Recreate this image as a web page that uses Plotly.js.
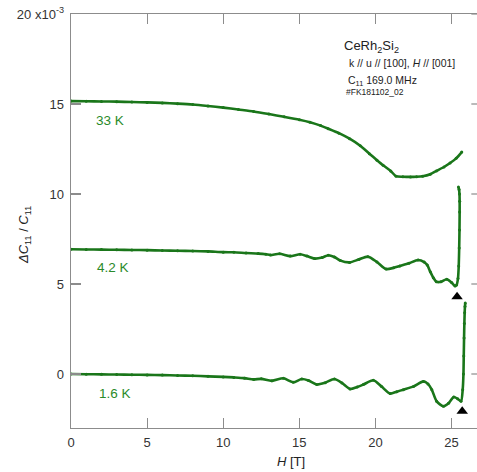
<!DOCTYPE html>
<html>
<head>
<meta charset="utf-8">
<script src="https://cdn.plot.ly/plotly-3.0.1.min.js"></script>
<style>html,body{margin:0;padding:0;background:#fff;overflow:hidden;width:477px;height:472px;}#plot{width:477px;height:472px;}</style>
</head>
<body>
<div id="plot"></div>
<script>
// values in units of 1e-3
var h33 = [0, 1, 2, 3, 4, 5, 6, 7, 8, 9, 10, 11, 12, 13, 14, 15, 15.7, 16.4, 16.9, 17.6, 18.3, 19.0, 19.6, 20.1, 20.5, 21.0, 21.35, 21.8, 22.3, 22.7, 23.1, 23.6, 24.0, 24.5, 24.9, 25.3, 25.67];
var y33 = [15.16, 15.15, 15.14, 15.13, 15.11, 15.09, 15.06, 15.02, 14.97, 14.89, 14.80, 14.69, 14.58, 14.44, 14.29, 14.13, 13.99, 13.80, 13.63, 13.38, 13.07, 12.68, 12.24, 11.88, 11.60, 11.28, 10.99, 10.96, 10.95, 10.96, 10.99, 11.10, 11.28, 11.50, 11.72, 11.98, 12.33];

var h42 = [0, 1, 2, 3, 4, 5, 6, 7, 8, 9, 10, 10.7, 11.5, 12.3, 12.8, 13.1, 13.7, 14.4, 15.05, 15.5, 16.0, 16.5, 16.9, 17.3, 17.7, 18.3, 18.9, 19.5, 20.1, 20.7, 21.2, 21.6, 22.2, 22.8, 23.2, 23.4, 23.6, 23.8, 24.0, 24.3, 24.68, 25.0, 25.23, 25.33, 25.42, 25.47, 25.5, 25.52, 25.53, 25.53, 25.52, 25.49, 25.45];
var y42 = [6.93, 6.92, 6.91, 6.90, 6.89, 6.88, 6.86, 6.85, 6.83, 6.81, 6.77, 6.76, 6.72, 6.69, 6.65, 6.61, 6.68, 6.55, 6.65, 6.55, 6.41, 6.47, 6.60, 6.50, 6.30, 6.20, 6.36, 6.52, 6.22, 5.83, 5.90, 6.00, 6.15, 6.33, 6.22, 6.05, 5.68, 5.35, 5.13, 5.12, 5.26, 5.08, 4.89, 4.95, 5.30, 6.00, 7.00, 8.00, 9.00, 9.60, 10.00, 10.25, 10.39];

var h16 = [0, 1, 2, 3, 4, 5, 6, 7, 8, 9, 10, 10.7, 11.4, 12.0, 12.5, 13.2, 13.95, 14.6, 15.16, 15.6, 16.14, 16.7, 17.3, 17.8, 18.33, 18.8, 19.2, 19.86, 20.4, 20.96, 21.4, 21.83, 22.5, 23.15, 23.45, 23.7, 24.02, 24.46, 24.8, 25.15, 25.4, 25.62, 25.73, 25.78, 25.8, 25.82, 25.84, 25.86, 25.88, 25.9];
var y16 = [0.00, -0.01, -0.02, -0.03, -0.04, -0.05, -0.06, -0.08, -0.10, -0.13, -0.16, -0.19, -0.23, -0.30, -0.27, -0.38, -0.24, -0.46, -0.28, -0.36, -0.58, -0.48, -0.28, -0.50, -0.83, -0.72, -0.59, -0.35, -0.70, -1.09, -0.98, -0.87, -0.69, -0.41, -0.55, -0.87, -1.52, -1.79, -1.62, -1.28, -1.38, -1.52, -0.87, 0.00, 1.00, 2.00, 2.80, 3.40, 3.75, 3.95];

var markH = [25.36, 25.70];
var markY = [4.29, -2.07];

var tickVals = [0, 5, 10, 15, 20];
var tickText = ['0', '5', '10', '15', '20 x10<sup>-3</sup>'];
var xTickVals = [0, 5, 10, 15, 20, 25];
var xTickText = ['0', '5', '10', '15', '20', '25'];

var green = '#1a761a';
function series(hx, yy, name) {
  return {x: hx, y: yy, name: name, type: 'scatter', mode: 'lines+markers',
    line: {color: green, width: 2.6, shape: 'spline', smoothing: 0.7}, marker: {color: green, size: 3}, hoverinfo: 'x+y'};
}
var traces = [
  series(h33, y33, '33 K'),
  series(h42, y42, '4.2 K'),
  series(h16, y16, '1.6 K'),
  {x: markH, y: markY, type: 'scatter', mode: 'markers', name: 'transition',
    marker: {symbol: 'triangle-up', size: 10, color: '#000'}}
];

var axCol = '#8c8c8c';
var font = {family: 'Liberation Sans, Arial, Helvetica, sans-serif', size: 13, color: '#333'};
var lab = {family: 'Liberation Sans, Arial, Helvetica, sans-serif', size: 13.5, color: '#2a8a2a'};
var txt = {family: 'Liberation Sans, Arial, Helvetica, sans-serif', size: 10.5, color: '#222'};

// right-side (mirrored) tick marks of the y axis; the right frame line lies beyond the picture
var rightTicks = tickVals.map(function (v) {
  return {type: 'line', xref: 'paper', yref: 'y', x0: 0.986, x1: 1.0, y0: v, y1: v,
    line: {color: axCol, width: 1.2}, layer: 'above'};
});

var layout = {
  width: 477, height: 472,
  margin: {l: 71, r: 0, t: 14, b: 44, pad: 0},
  paper_bgcolor: '#fff', plot_bgcolor: '#fff',
  showlegend: false,
  font: font,
  xaxis: {range: [0, 26.67], tickvals: xTickVals, ticktext: xTickText, ticks: 'inside', ticklen: 10,
    tickcolor: axCol, tickwidth: 1.2, showline: true, linecolor: axCol, linewidth: 1.4, mirror: 'ticks',
    showgrid: false, zeroline: false, ticklabelstandoff: 2, tickfont: font},
  yaxis: {range: [-3, 20], tickvals: tickVals, ticktext: tickText, ticks: 'inside', ticklen: 10,
    tickcolor: axCol, tickwidth: 1.2, showline: true, linecolor: axCol, linewidth: 1.4,
    showgrid: false, zeroline: false, ticklabelstandoff: 3, tickfont: font},
  shapes: rightTicks,
  annotations: [
    {x: 1.5, y: 14.1, xref: 'x', yref: 'y', text: '33 K', showarrow: false, xanchor: 'left', yanchor: 'middle', font: lab},
    {x: 1.6, y: 5.9, xref: 'x', yref: 'y', text: '4.2 K', showarrow: false, xanchor: 'left', yanchor: 'middle', font: lab},
    {x: 1.68, y: -1.07, xref: 'x', yref: 'y', text: '1.6 K', showarrow: false, xanchor: 'left', yanchor: 'middle', font: lab},
    {x: 17.8, y: 18.2, xref: 'x', yref: 'y', text: 'CeRh<sub>2</sub>Si<sub>2</sub>', showarrow: false, xanchor: 'left', yanchor: 'middle',
      font: {family: txt.family, size: 13, color: '#222'}},
    {x: 18.1, y: 17.29, xref: 'x', yref: 'y', text: 'k // u // [100], <i>H</i> // [001]', showarrow: false, xanchor: 'left', yanchor: 'middle', font: txt},
    {x: 18.05, y: 16.3, xref: 'x', yref: 'y', text: 'C<sub>11</sub> 169.0 MHz', showarrow: false, xanchor: 'left', yanchor: 'middle', font: txt},
    {x: 17.95, y: 15.66, xref: 'x', yref: 'y', text: '#FK181102_02', showarrow: false, xanchor: 'left', yanchor: 'middle',
      font: {family: txt.family, size: 8.5, color: '#222'}},
    {x: -0.1158, y: 0.466, xref: 'paper', yref: 'paper', text: '<i>ΔC</i><sub>11</sub> / <i>C</i><sub>11</sub>', textangle: -90,
      showarrow: false, xanchor: 'center', yanchor: 'middle', font: {family: font.family, size: 13, color: '#222'}},
    {x: 0.542, y: -0.082, xref: 'paper', yref: 'paper', text: '<i>H</i> [T]', showarrow: false, xanchor: 'center', yanchor: 'middle',
      font: {family: font.family, size: 13, color: '#222'}}
  ]
};
Plotly.newPlot('plot', traces, layout, {displayModeBar: false, staticPlot: true});
</script>
</body>
</html>
